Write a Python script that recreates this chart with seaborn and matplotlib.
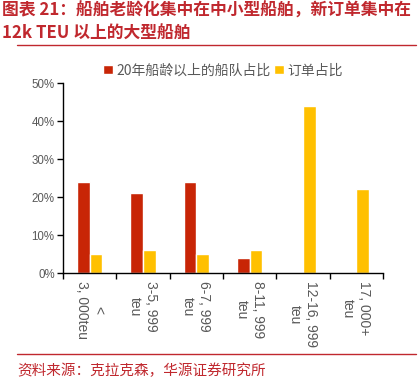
import pandas as pd
import matplotlib.pyplot as plt
import seaborn as sb
from matplotlib.ticker import FixedLocator, PercentFormatter

categories = ['<\n3, 000teu', '3-5, 999\nteu', '6-7, 999\nteu', '8-11, 999\nteu', '12-16, 999\nteu', '17, 000+\nteu']
old_fleet = [24, 21, 24, 4, 0, 0]
orders = [5, 6, 5, 6, 44, 22]
series_names = ['20年船龄以上的船队占比', '订单占比']
colors = ['#C82506', '#FFC000']

sb.set_style('white')
plt.rcParams['font.family'] = ['Liberation Sans', 'Noto Sans CJK SC', 'DejaVu Sans']

df = pd.DataFrame({
    'cat': categories * 2,
    'val': old_fleet + orders,
    'series': [series_names[0]] * len(categories) + [series_names[1]] * len(categories),
})

fig = plt.figure(figsize=(4.2, 3.88), dpi=100)
ax = fig.add_axes([0.15, 0.296, 0.762, 0.49])
sb.barplot(data=df, x='cat', y='val', hue='series', palette=colors, width=0.48,
           ax=ax, saturation=1, legend=True)

grey = '#595959'
ax.set_ylim(0, 50)
ax.set_xlim(-0.5, len(categories) - 0.5)
ax.yaxis.set_major_locator(FixedLocator(range(0, 51, 10)))
ax.yaxis.set_major_formatter(PercentFormatter(decimals=0))
ax.xaxis.set_minor_locator(FixedLocator([i - 0.5 for i in range(len(categories) + 1)]))
ax.tick_params(axis='x', which='major', length=0, pad=6, labelsize=10, labelcolor=grey, labelrotation=270)
ax.tick_params(axis='x', which='minor', length=4, width=1, color='black', direction='out', bottom=True)
ax.tick_params(axis='y', length=4, width=1, color='black', direction='out', left=True, labelsize=8.3, labelcolor=grey, pad=2)
for lab in ax.get_xticklabels():
    lab.set_verticalalignment('top')
    lab.set_horizontalalignment('center')
    lab.set_multialignment('center')
ax.set(xlabel='', ylabel='')
for s in ['top', 'right']:
    ax.spines[s].set_visible(False)
for s in ['left', 'bottom']:
    ax.spines[s].set_color('black')
    ax.spines[s].set_linewidth(1)

leg = ax.legend(loc='lower center', bbox_to_anchor=(0.5, 1.0), ncol=2, frameon=False,
                fontsize=10, handlelength=0.7, handleheight=0.7, handletextpad=0.3,
                columnspacing=0.2, borderaxespad=0)
for t in leg.get_texts():
    t.set_color(grey)
    t.set_family(['Noto Sans CJK SC', 'DejaVu Sans'])

red = '#C0282E'
fig.text(0.005, 0.995, '图表 21：船舶老龄化集中在中小型船舶，新订单集中在\n12k TEU 以上的大型船舶',
         ha='left', va='top', color=red, fontsize=12.1, fontweight='bold',
         family=['Noto Sans CJK SC', 'DejaVu Sans'], linespacing=1.35)
fig.add_artist(plt.Line2D([0.04, 0.99], [0.884, 0.884], color=red, linewidth=1))
fig.add_artist(plt.Line2D([0.04, 0.99], [0.088, 0.088], color=red, linewidth=1))
fig.text(0.04, 0.045, '资料来源：克拉克森，华源证券研究所', ha='left', va='center', color=red,
         fontsize=10.5, family=['Noto Sans CJK SC', 'DejaVu Sans'])

fig.savefig('out.png', dpi=100)
